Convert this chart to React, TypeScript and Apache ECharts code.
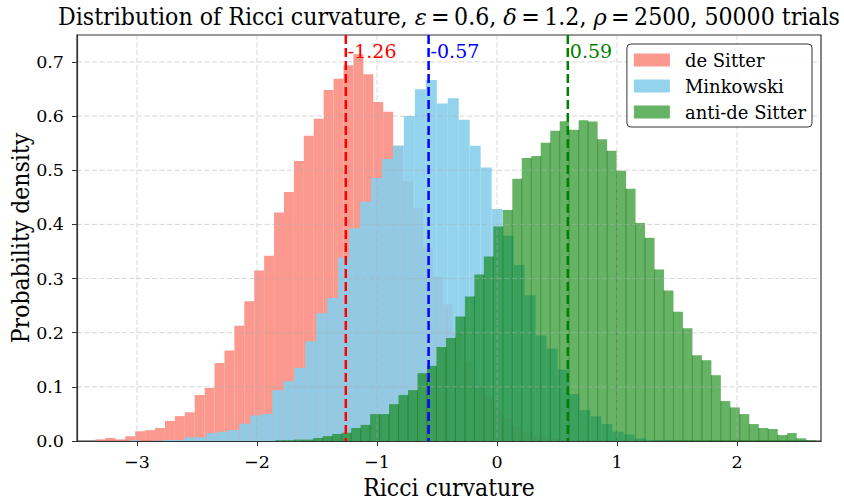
import React, { useEffect, useRef } from 'react';
import * as echarts from 'echarts';

// ---- data ----
const seriesNames = ['de Sitter', 'Minkowski', 'anti-de Sitter'];

const redStart = -3.3458;
const redWidth = 0.08267;
const redHeights = [
  0.003, 0.0055, 0.003, 0.009, 0.018, 0.020, 0.024, 0.037, 0.046, 0.053,
  0.085, 0.098, 0.144, 0.167, 0.213, 0.258, 0.315, 0.342, 0.422, 0.460,
  0.517, 0.5635, 0.595, 0.648, 0.669, 0.694, 0.714, 0.677, 0.626, 0.608,
  0.545, 0.48, 0.430, 0.358, 0.304, 0.252, 0.20, 0.146, 0.10, 0.082,
  0.060, 0.042, 0.026, 0.016, 0.008, 0.008, 0.004, 0.002, 0.001, 0.0005,
];

const blueStart = -3.0608;
const blueWidth = 0.0914;
const blueHeights = [
  0.0015, 0.0, 0.0007, 0.0018, 0.0018, 0.0068, 0.0068, 0.0147, 0.017, 0.0203,
  0.0319, 0.0473, 0.050, 0.0939, 0.1105, 0.135, 0.184, 0.2357, 0.264, 0.339,
  0.393, 0.442, 0.4856, 0.5206, 0.545, 0.600, 0.6495, 0.6667, 0.623, 0.633,
  0.593, 0.545, 0.505, 0.4285, 0.379, 0.325, 0.269, 0.195, 0.1707, 0.132,
  0.0866, 0.057, 0.0454, 0.0313, 0.0172, 0.0123, 0.0049, 0.002, 0.001, 0.0005,
];

const greenStart = -1.8475;
const greenWidth = 0.079;
const greenHeights = [
  0.0015, 0.0015, 0.0025, 0.0025, 0.0055, 0.009, 0.013, 0.0153, 0.024, 0.0297,
  0.0497, 0.0497, 0.068, 0.085, 0.094, 0.1253, 0.1387, 0.1737, 0.1904, 0.230,
  0.267, 0.3076, 0.3407, 0.396, 0.4267, 0.4843, 0.5224, 0.5261, 0.5506, 0.5727,
  0.5905, 0.5746, 0.5924, 0.590, 0.5574, 0.5359, 0.4991, 0.4659, 0.4027, 0.3751,
  0.3168, 0.2781, 0.2388, 0.2081, 0.1584, 0.1492, 0.1215, 0.0737, 0.062, 0.0497,
  0.0313, 0.024, 0.0221, 0.011, 0.0147, 0.005, 0.0013,
];

const meanValues = [-1.26, -0.57, 0.59];
const xTicks = [-3, -2, -1, 0, 1, 2];
const yTicks = [0, 0.1, 0.2, 0.3, 0.4, 0.5, 0.6, 0.7];
const xRange = [-3.5, 2.7];
const yRange = [0, 0.7497];

// ---- styles ----
const fillColors = ['rgba(250,128,114,0.8)', 'rgba(135,206,235,0.9)', 'rgba(0,128,0,0.6)'];
const meanColors = ['#ff0000', '#0000ff', '#008000'];
const SERIF = "'DejaVu Serif', serif";
const COND = "'DejaVu Serif Condensed', 'DejaVu Serif', serif";

function buildBins(start: number, width: number, heights: number[]) {
  return heights.map((h, i) => [start + i * width, start + (i + 1) * width, h]);
}

function histSeries(idx: number, start: number, width: number, heights: number[], edgeLines: boolean) {
  return {
    type: 'custom',
    name: seriesNames[idx],
    z: 2 + idx * 0.1,
    itemStyle: { color: fillColors[idx] },
    encode: { x: [0, 1], y: 2 },
    data: buildBins(start, width, heights),
    renderItem: (params: any, api: any) => {
      const x0 = api.value(0);
      const x1 = api.value(1);
      const h = api.value(2);
      const p0 = api.coord([x0, h]);
      const p1 = api.coord([x1, 0]);
      const rect = {
        type: 'rect',
        shape: { x: p0[0], y: p0[1], width: p1[0] - p0[0], height: p1[1] - p0[1] },
        style: { fill: api.visual('color') },
      };
      if (!edgeLines || params.dataIndex === 0) return rect;
      const prevH = heights[params.dataIndex - 1];
      const top = api.coord([x0, Math.min(h, prevH)]);
      return {
        type: 'group',
        children: [
          rect,
          {
            type: 'line',
            shape: { x1: p0[0], y1: top[1], x2: p0[0], y2: p1[1] },
            style: { stroke: 'rgba(0,100,0,0.45)', lineWidth: 1 },
          },
        ],
      };
    },
  };
}

export default function App() {
  const ref = useRef<HTMLDivElement>(null);
  useEffect(() => {
    if (!ref.current) return;
    const chart = echarts.init(ref.current, undefined, { renderer: 'svg' });
    const gridData = [
      ...xTicks.map((v) => [v, 0]),
      ...yTicks.filter((v) => v > 0).map((v) => [v, 1]),
    ];
    const option: any = {
      animation: false,
      backgroundColor: '#ffffff',
      grid: {
        left: 77, top: 35, width: 744, height: 406,
        containLabel: false,
        outerBoundsMode: 'none',
        show: true, borderColor: '#333333', borderWidth: 1.2, backgroundColor: 'transparent',
      },
      graphic: [
        {
          type: 'text',
          x: 449,
          y: 4,
          z: 10,
          style: {
            text: 'Distribution of Ricci curvature, {i|ε}\u2009=\u20090.6, {i|δ}\u2009=\u20091.2, {i|ρ}\u2009=\u20092500, 50000 trials',
            align: 'center',
            verticalAlign: 'top',
            fill: '#000',
            font: `24.6px ${COND}`,
            rich: {
              i: { fontStyle: 'italic', fontFamily: SERIF, fontSize: 22.5 },
            },
          },
        },
      ],
      legend: {
        data: seriesNames,
        orient: 'vertical',
        right: 32,
        top: 44,
        icon: 'rect',
        itemWidth: 36,
        itemHeight: 13,
        itemGap: 8,
        backgroundColor: 'rgba(255,255,255,0.85)',
        borderColor: '#333333',
        borderWidth: 1,
        borderRadius: 4,
        padding: [7, 6, 6, 7],
        textStyle: { fontFamily: SERIF, fontSize: 18, color: '#000', padding: [0, 0, 0, 10] },
      },
      xAxis: {
        type: 'value',
        min: xRange[0],
        max: xRange[1],
        z: 10,
        name: 'Ricci curvature',
        nameLocation: 'middle',
        nameGap: 34,
        nameMoveOverlap: false,
        nameTextStyle: { fontFamily: COND, fontSize: 24.5, color: '#000', lineHeight: 24 },
        axisLine: { show: true, onZero: false, lineStyle: { color: '#333333', width: 1.2 } },
        axisTick: { show: true, length: 5, inside: false, customValues: xTicks, lineStyle: { color: '#333' } },
        axisLabel: {
          customValues: xTicks,
          margin: 12,
          fontFamily: SERIF,
          fontSize: 17.5,
          color: '#000',
          formatter: (v: number) => (Number.isInteger(v) ? (v < 0 ? '\u2212' + Math.abs(v) : String(v)) : ''),
        },
        splitLine: { show: false },
      },
      yAxis: {
        type: 'value',
        min: yRange[0],
        max: yRange[1],
        z: 10,
        name: 'Probability density',
        nameLocation: 'middle',
        nameGap: 45,
        nameMoveOverlap: false,
        nameTextStyle: { fontFamily: COND, fontSize: 24.5, color: '#000', lineHeight: 24 },
        axisLine: { show: true, onZero: false, lineStyle: { color: '#333333', width: 1.2 } },
        axisTick: { show: true, length: 5, inside: false, customValues: yTicks, lineStyle: { color: '#333' } },
        axisLabel: {
          customValues: yTicks,
          margin: 13,
          fontFamily: SERIF,
          fontSize: 17.5,
          color: '#000',
          formatter: (v: number) => v.toFixed(1),
        },
        splitLine: { show: false },
      },
      series: [
        histSeries(0, redStart, redWidth, redHeights, false),
        histSeries(1, blueStart, blueWidth, blueHeights, false),
        histSeries(2, greenStart, greenWidth, greenHeights, true),
        {
          type: 'custom',
          name: 'grid',
          z: 3,
          silent: true,
          data: gridData,
          renderItem: (params: any, api: any) => {
            const v = api.value(0);
            const kind = api.value(1);
            const cs = params.coordSys;
            if (kind === 0) {
              const p = api.coord([v, 0]);
              return {
                type: 'line',
                shape: { x1: p[0], y1: cs.y, x2: p[0], y2: cs.y + cs.height },
                style: { stroke: 'rgba(176,176,176,0.5)', lineWidth: 1, lineDash: [5, 2.5] },
              };
            }
            const p = api.coord([xRange[0], v]);
            return {
              type: 'line',
              shape: { x1: cs.x, y1: p[1], x2: cs.x + cs.width, y2: p[1] },
              style: { stroke: 'rgba(176,176,176,0.5)', lineWidth: 1, lineDash: [5, 2.5] },
            };
          },
        },
        {
          type: 'custom',
          name: 'means',
          z: 5,
          silent: true,
          data: meanValues.map((v, i) => [v, i]),
          renderItem: (params: any, api: any) => {
            const v = api.value(0);
            const i = api.value(1);
            const cs = params.coordSys;
            const p = api.coord([v, 0]);
            return {
              type: 'group',
              children: [
                {
                  type: 'line',
                  shape: { x1: p[0], y1: cs.y, x2: p[0], y2: cs.y + cs.height },
                  style: { stroke: meanColors[i], lineWidth: 2.5, lineDash: [9, 4] },
                },
                {
                  type: 'text',
                  x: p[0] + 2,
                  y: cs.y + 6,
                  style: {
                    text: v.toFixed(2),
                    fill: meanColors[i],
                    font: `19px ${SERIF}`,
                    verticalAlign: 'top',
                    align: 'left',
                  },
                },
              ],
            };
          },
        },
      ],
    };
    chart.setOption(option);
    return () => chart.dispose();
  }, []);
  return (
    <div
      ref={ref}
      style={{ position: 'fixed', left: 0, top: 0, width: 844, height: 500, background: '#fff' }}
    />
  );
}
